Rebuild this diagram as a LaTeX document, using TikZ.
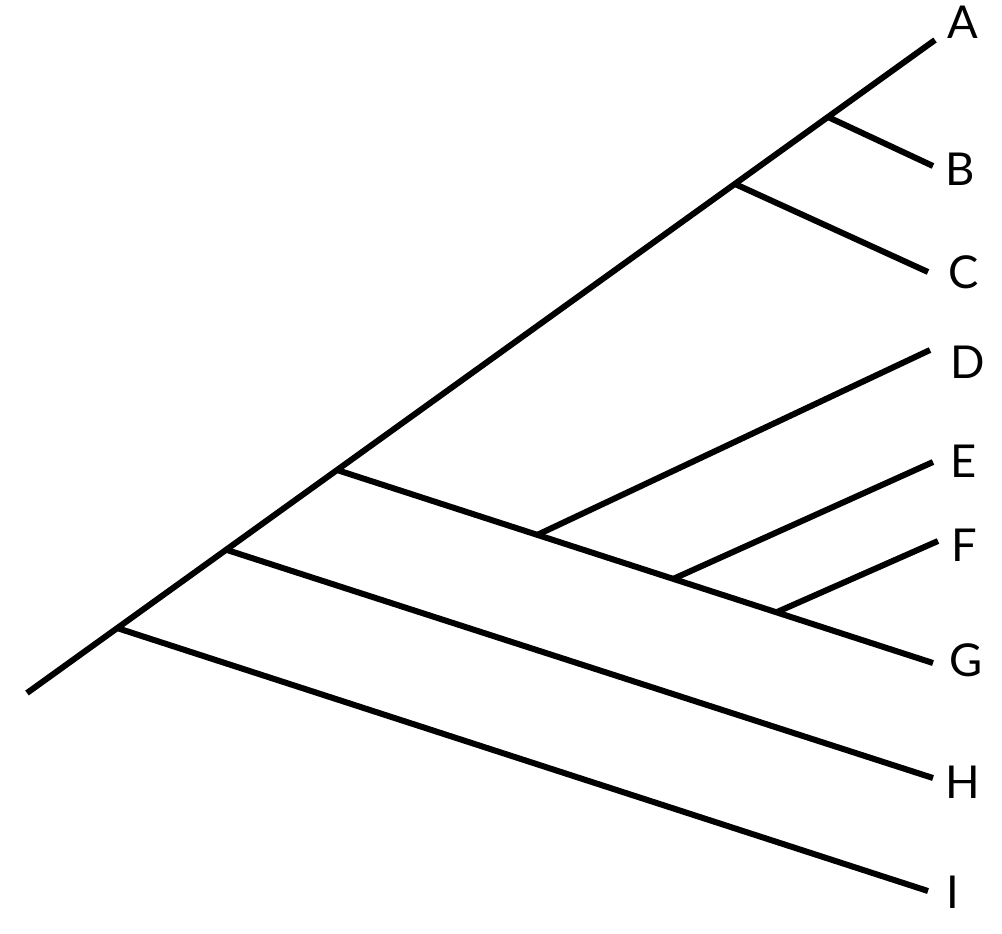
\documentclass[tikz,border=0pt]{standalone}
\usepackage{fontspec}
\setmainfont{Lato}
\usetikzlibrary{positioning}

\tikzset{
  branch/.style={line width=4.5pt},
  taxon/.style={inner sep=0pt, font=\fontsize{34}{40}\selectfont}
}

\begin{document}
\begin{tikzpicture}[x=0.75pt, y=-0.75pt]
    \useasboundingbox (0,0) rectangle (1002,934);

    % Root and junctions
    \coordinate (root) at (27,693);
    \coordinate (nI) at (117,628);
    \coordinate (nH) at (227,550);
    \coordinate (nG) at (337,470);
    \coordinate (nC) at (735,184);
    \coordinate (nB) at (828,117);
    \coordinate (nD) at (537,535);
    \coordinate (nE) at (673,579);
    \coordinate (nF) at (777,612);

    % Tips
    \coordinate (tA) at (935,40);
    \coordinate (tB) at (933,166);
    \coordinate (tC) at (928,272);
    \coordinate (tD) at (930,350);
    \coordinate (tE) at (933,462);
    \coordinate (tF) at (938,541);
    \coordinate (tG) at (933,663);
    \coordinate (tH) at (933,778);
    \coordinate (tI) at (928,891);

    % Labels
    \node[taxon] (A) at (963,22) {A};
    \node[taxon] (B) at (960,169) {B};
    \node[taxon] (C) at (964,272) {C};
    \node[taxon] (D) at (968,362) {D};
    \node[taxon] (E) at (964,461) {E};
    \node[taxon] (F) at (964,545) {F};
    \node[taxon] (G) at (966,660) {G};
    \node[taxon] (H) at (963,782) {H};
    \node[taxon] (I) at (953,892) {I};

    % Branches
    \draw[branch] (root) -- (tA);
    \draw[branch] (nB) -- (tB);
    \draw[branch] (nC) -- (tC);
    \draw[branch] (nG) -- (tG);
    \draw[branch] (nD) -- (tD);
    \draw[branch] (nE) -- (tE);
    \draw[branch] (nF) -- (tF);
    \draw[branch] (nH) -- (tH);
    \draw[branch] (nI) -- (tI);
\end{tikzpicture}
\end{document}
